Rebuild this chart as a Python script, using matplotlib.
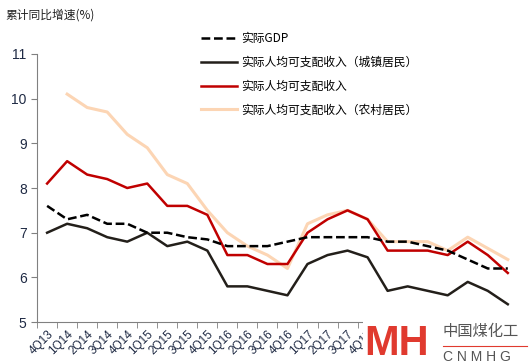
import matplotlib
matplotlib.use("Agg")
from matplotlib import pyplot as plt
from matplotlib.patches import Rectangle
import numpy as np

plt.rcParams['font.family'] = ['Liberation Sans', 'Noto Sans CJK SC', 'DejaVu Sans']

# quarters
quarters = ["4Q13", "1Q14", "2Q14", "3Q14", "4Q14", "1Q15", "2Q15", "3Q15", "4Q15",
            "1Q16", "2Q16", "3Q16", "4Q16", "1Q17", "2Q17", "3Q17", "4Q17",
            "1Q18", "2Q18", "3Q18", "4Q18", "1Q19", "2Q19", "3Q19"]

gdp = [7.6, 7.3, 7.4, 7.2, 7.2, 7.0, 7.0, 6.9, 6.85, 6.7, 6.7, 6.7, 6.8, 6.9, 6.9, 6.9,
       6.9, 6.8, 6.8, 6.7, 6.6, 6.4, 6.2, 6.2]
urban = [7.0, 7.2, 7.1, 6.9, 6.8, 7.0, 6.7, 6.8, 6.6, 5.8, 5.8, 5.7, 5.6, 6.3, 6.5, 6.6,
         6.45, 5.7, 5.8, 5.7, 5.6, 5.9, 5.7, 5.4]
total = [8.1, 8.6, 8.3, 8.2, 8.0, 8.1, 7.6, 7.6, 7.4, 6.5, 6.5, 6.3, 6.3, 7.0, 7.3, 7.5,
         7.3, 6.6, 6.6, 6.6, 6.5, 6.8, 6.5, 6.1]
rural = [np.nan, 10.1, 9.8, 9.7, 9.2, 8.9, 8.3, 8.1, 7.5, 7.0, 6.7, 6.5, 6.2, 7.2, 7.4, 7.5,
         7.3, 6.8, 6.8, 6.8, 6.6, 6.9, 6.65, 6.4]

labels = ["实际GDP", "实际人均可支配收入（城镇居民）", "实际人均可支配收入", "实际人均可支配收入（农村居民）"]

fig = plt.figure(figsize=(5.3, 3.64), dpi=100)
ax = fig.add_axes([0.070, 0.115, 0.907, 0.737])

x = np.arange(len(quarters))
ax.plot(x, gdp, color="black", lw=1.8, ls=(0, (3.5, 1.5)), label=labels[0], zorder=4)
ax.plot(x, urban, color="#231f1a", lw=1.8, label=labels[1], zorder=3)
ax.plot(x, total, color="#c00000", lw=1.8, label=labels[2], zorder=2)
ax.plot(x, rural, color="#fcd5b4", lw=2.2, label=labels[3], zorder=1)

ax.set_xlim(-0.5, len(quarters) - 0.5)
ax.set_ylim(5, 11)
ax.set_yticks(np.arange(5, 12, 1))
ax.set_xticks(x)
ax.set_xticklabels(quarters, rotation=45, ha="right", rotation_mode="anchor", fontsize=8.5,
                   color="#1f2a44")
ax.set_xticks(np.arange(-0.5, len(quarters), 1), minor=True)
ax.tick_params(axis="x", which="major", length=0, pad=4)
ax.tick_params(axis="x", which="minor", length=4, color="#808080", direction="out")
ax.tick_params(axis="y", length=4, color="#808080", labelsize=10, labelcolor="#1f2a44")
for s in ["top", "right"]:
    ax.spines[s].set_visible(False)
for s in ["left", "bottom"]:
    ax.spines[s].set_color("#808080")

leg = ax.legend(loc="upper left", bbox_to_anchor=(0.36, 0.94), bbox_transform=fig.transFigure,
                frameon=False, handlelength=3.0, handletextpad=0.4,
                labelspacing=0.9, prop={"family": ["Noto Sans CJK SC"], "size": 8.5})

fig.text(0.01, 0.96, "累计同比增速(%)", fontsize=8.5, color="#222222",
         family=["Noto Sans CJK SC", "DejaVu Sans"], va="center")

# watermark logo, bottom right
fig.patches.append(Rectangle((0.685, 0.0), 0.315, 0.14, transform=fig.transFigure,
                             facecolor="white", edgecolor="none", zorder=5))
fig.text(0.688, 0.0, "MH", fontsize=30, fontweight="bold", color="#e03a2f",
         va="bottom", ha="left", zorder=6)
fig.text(0.835, 0.09, "中国煤化工", fontsize=11, color="#555555",
         family=["Noto Sans CJK SC"], va="center", zorder=6)
fig.add_artist(plt.Line2D([0.835, 0.995], [0.05, 0.05], transform=fig.transFigure,
                          color="#e03a2f", lw=0.8, zorder=6))
fig.text(0.835, 0.02, "C N M H G", fontsize=10, color="#555555", va="center", zorder=6)

fig.savefig("out.png", dpi=100)
